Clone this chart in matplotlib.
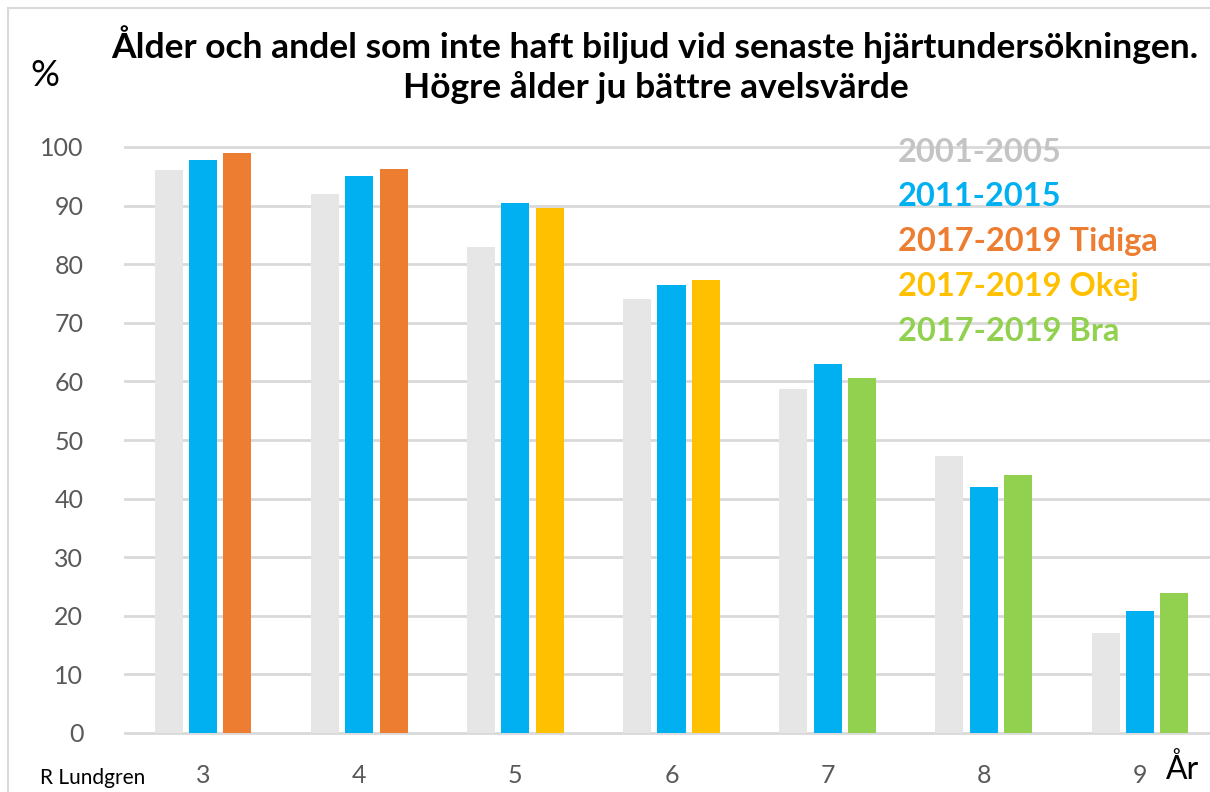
import matplotlib.pyplot as plt
from matplotlib.patches import Rectangle
import numpy as np

plt.rcParams['font.family'] = ['Lato', 'DejaVu Sans']

ages = ['3', '4', '5', '6', '7', '8', '9']
v_2001 = [96, 92, 83, 74, 58.7, 47.3, 17]
v_2011 = [97.8, 95.1, 90.4, 76.4, 63, 42, 20.9]
v_2017 = [99, 96.2, 89.6, 77.3, 60.6, 44, 23.9]
# which 2017-2019 group each age belongs to
grp_2017 = ['Tidiga', 'Tidiga', 'Okej', 'Okej', 'Bra', 'Bra', 'Bra']

legend_labels = ['2001-2005', '2011-2015', '2017-2019 Tidiga', '2017-2019 Okej', '2017-2019 Bra']

c_gray = '#E6E6E6'
c_blue = '#00B0F0'
grp_colors = {'Tidiga': '#ED7D31', 'Okej': '#FFC000', 'Bra': '#92D050'}
legend_colors = ['#C4C4C4', c_blue, '#ED7D31', '#FFC000', '#92D050']

fig = plt.figure(figsize=(12.1, 7.92), dpi=100)
# light frame around the whole chart
fig.patches.append(Rectangle((8 / 1210, -0.1), 1.1, 1.1 - 8 / 792, transform=fig.transFigure,
                             fill=False, edgecolor='#D9D9D9', linewidth=1.5))

ax = fig.add_axes([125 / 1210, 1 - 733 / 792, 1093 / 1210, (733 - 147) / 792])

x = np.arange(len(ages))
w = 0.18
step = 0.22
ax.bar(x - step, v_2001, w, color=c_gray, zorder=3)
ax.bar(x, v_2011, w, color=c_blue, zorder=3)
ax.bar(x + step, v_2017, w, color=[grp_colors[g] for g in grp_2017], zorder=3)

ax.set_xlim(-0.5, len(ages) - 0.5)
ax.set_ylim(0, 100)
ax.set_yticks(range(0, 101, 10))
for yv in range(10, 101, 10):
    ax.axhline(yv, color='#D9D9D9', linewidth=2, zorder=1, clip_on=False)
for s in ['top', 'right', 'left']:
    ax.spines[s].set_visible(False)
ax.spines['bottom'].set_color('#D9D9D9')
ax.spines['bottom'].set_linewidth(2)
ax.set_xticks(x)
ax.set_xticklabels(ages)
ax.tick_params(axis='both', length=0, labelsize=18, labelcolor='#595959')
ax.tick_params(axis='y', pad=30)
ax.tick_params(axis='x', pad=22)

fig.text(655 / 1210, 1 - 45 / 792, 'Ålder och andel som inte haft biljud vid senaste hjärtundersökningen.',
         ha='center', va='center', fontsize=25.5, fontweight='bold', color='black')
fig.text(656 / 1210, 1 - 88 / 792, 'Högre ålder ju bättre avelsvärde',
         ha='center', va='center', fontsize=25.5, fontweight='bold', color='black')
fig.text(45 / 1210, 1 - 76 / 792, '%', ha='center', va='center', fontsize=26, color='black')
fig.text(1183 / 1210, 1 - 770 / 792, 'År', ha='center', va='center', fontsize=23, color='black')
fig.text(40 / 1210, 1 - 778 / 792, 'R Lundgren', ha='left', va='center', fontsize=15, color='black')

for i, (lab, col) in enumerate(zip(legend_labels, legend_colors)):
    fig.text(898 / 1210, 1 - (152 + i * 44.8) / 792, lab, ha='left', va='center',
             fontsize=23.5, fontweight='bold', color=col)

fig.savefig('out.png', dpi=100)
